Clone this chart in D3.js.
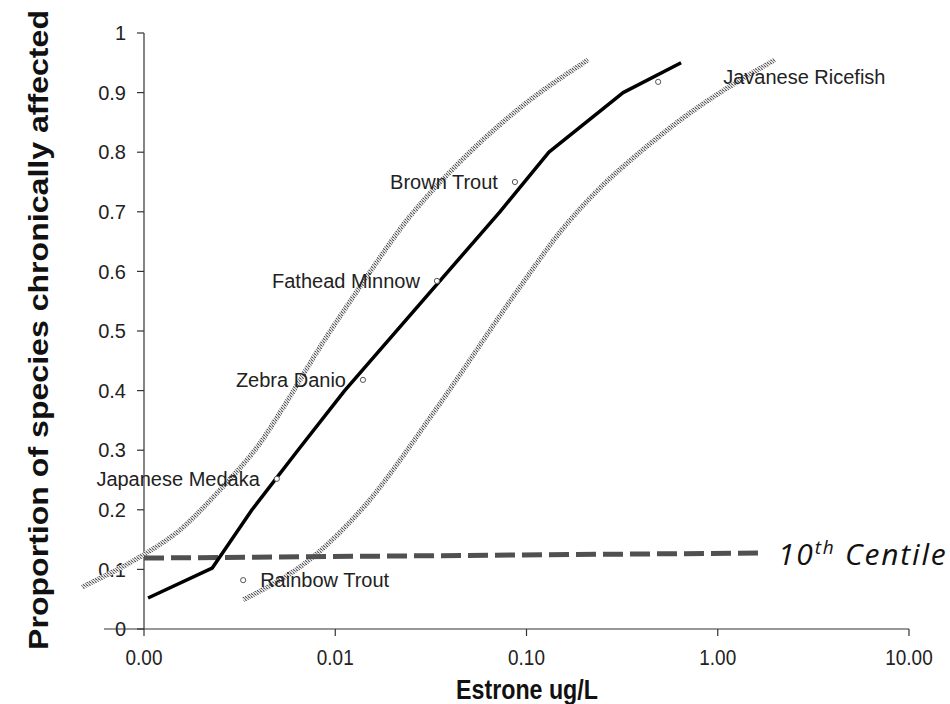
<!DOCTYPE html>
<html>
<head>
<meta charset="utf-8">
<script src="https://cdn.jsdelivr.net/npm/d3@7"></script>
<style>
  body { margin: 0; background: #fff; }
  svg { display: block; }
  .tick-label { font-family: "Liberation Sans", Arial, sans-serif; fill: #222; }
  .sp-label { font-family: "Liberation Sans", Arial, sans-serif; font-size: 20px; fill: #222; }
  .title { font-family: "Liberation Sans", Arial, sans-serif; font-weight: bold; fill: #111; }
</style>
</head>
<body>
<svg id="chart" width="950" height="704"></svg>
<script>
// ---- data ----
const xTicks = [0.001, 0.01, 0.1, 1, 10];
const yTicks = [0, 0.1, 0.2, 0.3, 0.4, 0.5, 0.6, 0.7, 0.8, 0.9, 1];

// fitted species sensitivity curve (black)
const fitConc = [0.00105, 0.00227, 0.00367, 0.00638, 0.0112, 0.0726, 0.131, 0.32, 0.643];
const fitProp = [0.052, 0.102, 0.2, 0.3, 0.4, 0.7, 0.8, 0.9, 0.95];

// lower/upper confidence bands (stippled grey)
const lowConc = [0.000474, 0.000953, 0.00154, 0.00249, 0.00405, 0.00533, 0.00832, 0.01346, 0.0237, 0.0449, 0.098, 0.21];
const lowProp = [0.0705, 0.121, 0.166, 0.233, 0.312, 0.371, 0.473, 0.574, 0.686, 0.784, 0.881, 0.955];
const highConc = [0.0033, 0.00766, 0.01466, 0.034, 0.0925, 0.1497, 0.242, 0.392, 0.716, 1.307, 1.99];
const highProp = [0.049, 0.121, 0.211, 0.371, 0.574, 0.666, 0.74, 0.8, 0.866, 0.921, 0.955];

// species observations
const species = ["Rainbow Trout", "Japanese Medaka", "Zebra Danio", "Fathead Minnow", "Brown Trout", "Javanese Ricefish"];
const speciesConc = [0.0033, 0.00495, 0.01396, 0.034, 0.087, 0.488];
const speciesProp = [0.082, 0.252, 0.418, 0.584, 0.75, 0.918];
const labelSide = ["right", "left", "left", "left", "left", "right"];

// 10th centile reference line
const centileConc = [0.001, 1.7];
const centileProp = [0.119, 0.1275];

// ---- layout ----
const svg = d3.select("#chart");
const x = d3.scaleLog().domain([0.001, 10]).range([144, 909]);
const y = d3.scaleLinear().domain([0, 1]).range([629, 33]);

const zip = (xs, ys) => xs.map((v, i) => [v, ys[i]]);
const line = d3.line().x(d => x(d[0])).y(d => y(d[1]));
const smooth = d3.line().x(d => x(d[0])).y(d => y(d[1])).curve(d3.curveMonotoneX);

// squeeze text horizontally (the source used a narrow face)
const narrow = (sel, k) => sel.each(function () {
  d3.select(this)
    .attr("textLength", this.getComputedTextLength() * k)
    .attr("lengthAdjust", "spacingAndGlyphs");
});

// stipple pattern for confidence bands
const defs = svg.append("defs");
const pat = defs.append("pattern")
  .attr("id", "stipple")
  .attr("width", 3).attr("height", 3)
  .attr("patternUnits", "userSpaceOnUse");
pat.append("rect").attr("width", 3).attr("height", 3).attr("fill", "#e2e2e2");
pat.append("rect").attr("width", 1).attr("height", 1).attr("fill", "#555");
pat.append("rect").attr("x", 1).attr("y", 1).attr("width", 1).attr("height", 1).attr("fill", "#888");
pat.append("rect").attr("x", 2).attr("y", 2).attr("width", 1).attr("height", 1).attr("fill", "#666");
pat.append("rect").attr("x", 2).attr("y", 0).attr("width", 1).attr("height", 1).attr("fill", "#aaa");

// ---- axes ----
const yAxis = svg.append("g").attr("transform", `translate(${x.range()[0]},0)`);
yAxis.append("line")
  .attr("y1", y(0)).attr("y2", y(1))
  .attr("stroke", "#333").attr("stroke-width", 1.2);
yAxis.selectAll(".yt").data(yTicks).join("line")
  .attr("x1", -7).attr("x2", 0)
  .attr("y1", d => y(d)).attr("y2", d => y(d))
  .attr("stroke", "#333").attr("stroke-width", 1.2);
yAxis.selectAll(".yl").data(yTicks).join("text")
  .attr("class", "tick-label")
  .attr("x", -18).attr("y", d => y(d))
  .attr("dy", "0.36em")
  .attr("text-anchor", "end")
  .attr("font-size", 20)
  .text(d => String(+d.toFixed(1)));

const xAxis = svg.append("g").attr("transform", `translate(0,${y(0)})`);
xAxis.append("line")
  .attr("x1", 104).attr("x2", x.range()[1])
  .attr("stroke", "#333").attr("stroke-width", 1.2);
xAxis.selectAll(".xt").data(xTicks).join("line")
  .attr("x1", d => x(d)).attr("x2", d => x(d))
  .attr("y1", 0).attr("y2", 7)
  .attr("stroke", "#333").attr("stroke-width", 1.2);
xAxis.selectAll(".xl").data(xTicks).join("text")
  .attr("class", "tick-label")
  .attr("x", d => x(d)).attr("y", 36)
  .attr("text-anchor", "middle")
  .attr("font-size", 22)
  .text(d => d3.format(".2f")(d))
  .call(narrow, 0.86);

// ---- titles ----
svg.append("text")
  .attr("class", "title")
  .attr("x", 527).attr("y", 699)
  .attr("text-anchor", "middle")
  .attr("font-size", 27)
  .text("Estrone ug/L")
  .call(narrow, 0.86);

svg.append("text")
  .attr("class", "title")
  .attr("transform", "translate(48,330) rotate(-90)")
  .attr("text-anchor", "middle")
  .attr("font-size", 27)
  .attr("textLength", 640)
  .attr("lengthAdjust", "spacingAndGlyphs")
  .text("Proportion of species chronically affected");

// ---- curves ----
svg.append("path")
  .datum(zip(lowConc, lowProp))
  .attr("d", smooth)
  .attr("fill", "none")
  .attr("stroke", "url(#stipple)")
  .attr("stroke-width", 5);

svg.append("path")
  .datum(zip(highConc, highProp))
  .attr("d", smooth)
  .attr("fill", "none")
  .attr("stroke", "url(#stipple)")
  .attr("stroke-width", 5);

svg.append("path")
  .datum(zip(centileConc, centileProp))
  .attr("d", line)
  .attr("fill", "none")
  .attr("stroke", "#505050")
  .attr("stroke-width", 5)
  .attr("stroke-dasharray", "20 7");

svg.append("path")
  .datum(zip(fitConc, fitProp))
  .attr("d", line)
  .attr("fill", "none")
  .attr("stroke", "#000")
  .attr("stroke-width", 3.5)
  .attr("stroke-linejoin", "round");

// ---- species points + labels ----
const labelGap = { "Javanese Ricefish": 65 };
const pts = svg.append("g");
species.forEach((name, i) => {
  const cx = x(speciesConc[i]), cy = y(speciesProp[i]);
  pts.append("circle")
    .attr("cx", cx).attr("cy", cy).attr("r", 2.6)
    .attr("fill", "#fff").attr("stroke", "#555").attr("stroke-width", 1);
  const gap = labelGap[name] || 17;
  pts.append("text")
    .attr("class", "sp-label")
    .attr("x", labelSide[i] === "left" ? cx - gap : cx + gap)
    .attr("y", cy + (name === "Javanese Ricefish" ? -5 : 0))
    .attr("dy", "0.36em")
    .attr("text-anchor", labelSide[i] === "left" ? "end" : "start")
    .text(name);
});

// ---- 10th centile annotation ----
const ct = svg.append("text")
  .attr("x", 778).attr("y", 565)
  .attr("font-family", "'Open Sans', 'DejaVu Sans', sans-serif")
  .attr("font-style", "italic")
  .attr("font-size", 30)
  .attr("letter-spacing", 1.8)
  .attr("fill", "#111");
ct.append("tspan").text("10");
ct.append("tspan").attr("dy", -11).attr("font-size", 19).text("th");
ct.append("tspan").attr("dy", 11).text(" Centile");
</script>
</body>
</html>
